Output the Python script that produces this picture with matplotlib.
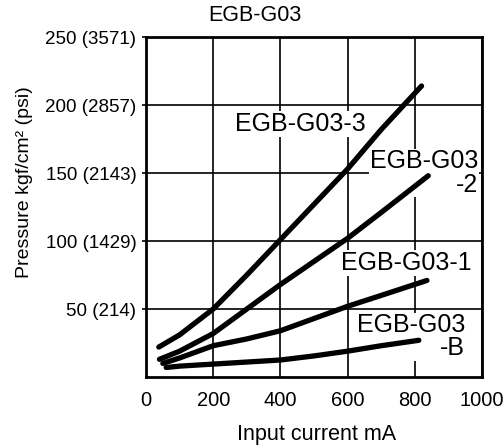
import matplotlib.pyplot as plt

# values
current_3 = [38, 100, 200, 300, 400, 500, 600, 700, 820]
pressure_3 = [22, 31, 50, 75, 101, 127, 153, 182, 214]

current_2 = [40, 100, 200, 300, 400, 500, 600, 700, 840]
pressure_2 = [13, 19, 32, 50, 68, 85, 102, 121, 148]

current_1 = [50, 100, 200, 300, 400, 500, 600, 700, 836]
pressure_1 = [10, 14, 23, 28, 34, 43, 52, 60, 71]

current_b = [60, 100, 200, 300, 400, 500, 600, 700, 812]
pressure_b = [7, 8, 9.5, 11, 12.5, 15.5, 19, 23, 27]

x_ticks = [0, 200, 400, 600, 800, 1000]
y_ticks = [50, 100, 150, 200, 250]
y_tick_labels = ["50 (214)", "100 (1429)", "150 (2143)", "200 (2857)", "250 (3571)"]

fonts = ["Liberation Sans", "DejaVu Sans"]

fig = plt.figure(figsize=(5.04, 4.46), dpi=100)
ax = fig.add_axes([0.2897, 0.1547, 0.6667, 0.7623])

series = [(current_3, pressure_3), (current_2, pressure_2),
          (current_1, pressure_1), (current_b, pressure_b)]
for xs, ys in series:
    ax.plot(xs, ys, color="black", lw=3.8, solid_capstyle="round",
            solid_joinstyle="round", zorder=3)

ax.set_xlim(0, 1000)
ax.set_ylim(0, 250)
ax.set_xticks(x_ticks)
ax.set_xticklabels([str(v) for v in x_ticks], family=fonts, fontsize=14.5)
ax.set_yticks(y_ticks)
ax.set_yticklabels(y_tick_labels, family=fonts, fontsize=13.5)
ax.tick_params(axis="x", length=0, pad=10)
ax.tick_params(axis="y", length=3, width=1.2, pad=4)
ax.grid(True, color="black", lw=1.2)
for sp in ax.spines.values():
    sp.set_linewidth(2)

ax.set_xlabel("Input current mA", family=fonts, fontsize=15.5)
ax.xaxis.set_label_coords(0.509, -0.168)
ax.xaxis.label.set_va("center")
ax.set_ylabel("Pressure kgf/cm² (psi)", family=fonts, fontsize=14)
ax.yaxis.set_label_coords(-0.363, 0.574)
ax.yaxis.label.set_va("center")

fig.text(0.506, 0.966, "EGB-G03", family=fonts, fontsize=15.5,
         ha="center", va="center")

box = dict(facecolor="white", edgecolor="none", pad=0.5)
ax.text(458, 186, "EGB-G03-3", family=fonts, fontsize=18,
        ha="center", va="center", bbox=box, zorder=2)
ax.text(988, 150, "EGB-G03\n-2", family=fonts, fontsize=18,
        ha="right", va="center", multialignment="right",
        linespacing=0.95, bbox=box, zorder=2)
ax.text(774, 84, "EGB-G03-1", family=fonts, fontsize=18,
        ha="center", va="center", bbox=box, zorder=2)
ax.text(949, 29.5, "EGB-G03\n-B", family=fonts, fontsize=18,
        ha="right", va="center", multialignment="right",
        linespacing=0.95, bbox=box, zorder=2)

fig.savefig("out.png", dpi=100)
